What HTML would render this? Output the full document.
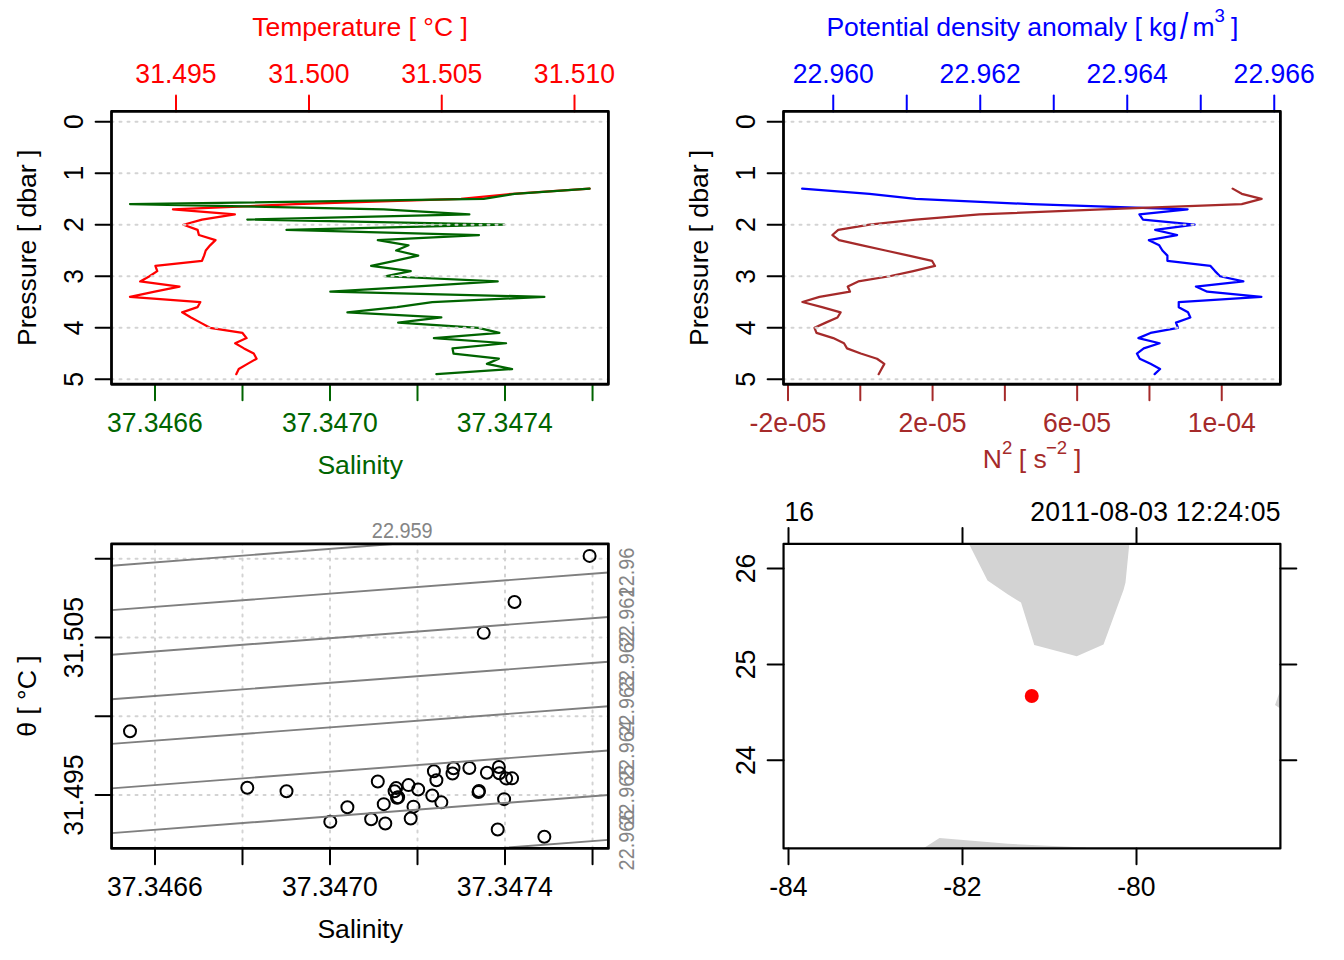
<!DOCTYPE html>
<html lang="en"><head><meta charset="utf-8"><title>CTD summary plot</title>
<style>html,body{margin:0;padding:0;background:#fff}svg{display:block}text{font-family:"Liberation Sans", sans-serif;font-size:26.56px}.nk{font-kerning:none}</style></head><body>
<svg width="1344" height="960" viewBox="0 0 1344 960">
<rect width="1344" height="960" fill="#fff"/>
<line x1="95.60" y1="121.65" x2="111.50" y2="121.65" stroke="#000" stroke-width="2" stroke-linecap="round"/>
<text x="82.90" y="121.65" fill="#000" text-anchor="middle" transform="translate(82.90 121.65) rotate(-90) scale(1 1.07) translate(-82.90 -121.65)">0</text>
<line x1="95.60" y1="173.18" x2="111.50" y2="173.18" stroke="#000" stroke-width="2" stroke-linecap="round"/>
<text x="82.90" y="173.18" fill="#000" text-anchor="middle" transform="translate(82.90 173.18) rotate(-90) scale(1 1.07) translate(-82.90 -173.18)">1</text>
<line x1="95.60" y1="224.72" x2="111.50" y2="224.72" stroke="#000" stroke-width="2" stroke-linecap="round"/>
<text x="82.90" y="224.72" fill="#000" text-anchor="middle" transform="translate(82.90 224.72) rotate(-90) scale(1 1.07) translate(-82.90 -224.72)">2</text>
<line x1="95.60" y1="276.25" x2="111.50" y2="276.25" stroke="#000" stroke-width="2" stroke-linecap="round"/>
<text x="82.90" y="276.25" fill="#000" text-anchor="middle" transform="translate(82.90 276.25) rotate(-90) scale(1 1.07) translate(-82.90 -276.25)">3</text>
<line x1="95.60" y1="327.79" x2="111.50" y2="327.79" stroke="#000" stroke-width="2" stroke-linecap="round"/>
<text x="82.90" y="327.79" fill="#000" text-anchor="middle" transform="translate(82.90 327.79) rotate(-90) scale(1 1.07) translate(-82.90 -327.79)">4</text>
<line x1="95.60" y1="379.32" x2="111.50" y2="379.32" stroke="#000" stroke-width="2" stroke-linecap="round"/>
<text x="82.90" y="379.32" fill="#000" text-anchor="middle" transform="translate(82.90 379.32) rotate(-90) scale(1 1.07) translate(-82.90 -379.32)">5</text>
<text x="36.20" y="247.85" fill="#000" text-anchor="middle" transform="translate(36.20 247.85) rotate(-90) translate(-36.20 -247.85)">Pressure [ dbar ]</text>
<line x1="176.00" y1="111.45" x2="176.00" y2="95.55" stroke="#ff0000" stroke-width="2" stroke-linecap="round"/>
<text x="176.00" y="82.60" fill="#ff0000" text-anchor="middle" transform="translate(176.00 82.60) scale(1 1.07) translate(-176.00 -82.60)">31.495</text>
<line x1="309.00" y1="111.45" x2="309.00" y2="95.55" stroke="#ff0000" stroke-width="2" stroke-linecap="round"/>
<text x="309.00" y="82.60" fill="#ff0000" text-anchor="middle" transform="translate(309.00 82.60) scale(1 1.07) translate(-309.00 -82.60)">31.500</text>
<line x1="441.75" y1="111.45" x2="441.75" y2="95.55" stroke="#ff0000" stroke-width="2" stroke-linecap="round"/>
<text x="441.75" y="82.60" fill="#ff0000" text-anchor="middle" transform="translate(441.75 82.60) scale(1 1.07) translate(-441.75 -82.60)">31.505</text>
<line x1="574.50" y1="111.45" x2="574.50" y2="95.55" stroke="#ff0000" stroke-width="2" stroke-linecap="round"/>
<text x="574.50" y="82.60" fill="#ff0000" text-anchor="middle" transform="translate(574.50 82.60) scale(1 1.07) translate(-574.50 -82.60)">31.510</text>
<text x="360.00" y="35.90" fill="#ff0000" text-anchor="middle">Temperature [ °C ]</text>
<line x1="155.00" y1="384.25" x2="155.00" y2="400.15" stroke="#006400" stroke-width="2" stroke-linecap="round"/>
<line x1="242.50" y1="384.25" x2="242.50" y2="400.15" stroke="#006400" stroke-width="2" stroke-linecap="round"/>
<line x1="330.00" y1="384.25" x2="330.00" y2="400.15" stroke="#006400" stroke-width="2" stroke-linecap="round"/>
<line x1="417.50" y1="384.25" x2="417.50" y2="400.15" stroke="#006400" stroke-width="2" stroke-linecap="round"/>
<line x1="505.00" y1="384.25" x2="505.00" y2="400.15" stroke="#006400" stroke-width="2" stroke-linecap="round"/>
<line x1="592.55" y1="384.25" x2="592.55" y2="400.15" stroke="#006400" stroke-width="2" stroke-linecap="round"/>
<text x="154.90" y="432.10" fill="#006400" text-anchor="middle" transform="translate(154.90 432.10) scale(1 1.07) translate(-154.90 -432.10)">37.3466</text>
<text x="329.90" y="432.10" fill="#006400" text-anchor="middle" transform="translate(329.90 432.10) scale(1 1.07) translate(-329.90 -432.10)">37.3470</text>
<text x="504.70" y="432.10" fill="#006400" text-anchor="middle" transform="translate(504.70 432.10) scale(1 1.07) translate(-504.70 -432.10)">37.3474</text>
<text x="360.20" y="473.90" fill="#006400" text-anchor="middle">Salinity</text>
<polyline points="589.60,188.64 512.50,193.80 461.00,198.95 295.50,204.10 172.90,209.26 234.85,214.41 202.00,219.56 183.50,224.72 197.60,229.87 198.90,235.02 215.50,240.18 210.10,245.33 205.75,250.49 204.10,255.64 202.00,260.79 155.40,265.95 157.25,271.10 149.50,276.25 140.15,281.41 179.50,286.56 154.75,291.71 130.00,296.87 200.35,302.02 197.50,307.17 182.15,312.33 191.00,317.48 200.50,322.63 210.00,327.79 242.50,332.94 246.60,338.09 235.15,343.25 244.00,348.40 253.75,353.55 256.60,358.71 247.50,363.86 238.75,369.01 236.25,374.17" fill="none" stroke="#ff0000" stroke-width="2.25" stroke-linejoin="round" stroke-linecap="round"/>
<polyline points="589.60,188.64 514.50,193.80 483.70,198.95 130.00,204.10 383.75,209.26 469.35,214.41 247.30,219.56 504.10,224.72 286.50,229.87 479.00,235.02 377.80,240.18 408.50,245.33 396.15,250.49 418.20,255.64 394.60,260.79 371.15,265.95 410.70,271.10 385.30,276.25 497.70,281.41 413.50,286.56 330.30,291.71 544.35,296.87 432.25,302.02 397.00,307.17 347.40,312.33 441.35,317.48 398.15,322.63 478.50,327.79 499.35,332.94 433.90,338.09 506.10,343.25 452.50,348.40 453.50,353.55 498.85,358.71 486.90,363.86 512.10,369.01 436.40,374.17" fill="none" stroke="#006400" stroke-width="2.25" stroke-linejoin="round" stroke-linecap="round"/>
<line x1="111.50" y1="121.65" x2="608.40" y2="121.65" stroke="#d3d3d3" stroke-width="2" stroke-dasharray="2 6" stroke-linecap="round"/>
<line x1="111.50" y1="173.18" x2="608.40" y2="173.18" stroke="#d3d3d3" stroke-width="2" stroke-dasharray="2 6" stroke-linecap="round"/>
<line x1="111.50" y1="224.72" x2="608.40" y2="224.72" stroke="#d3d3d3" stroke-width="2" stroke-dasharray="2 6" stroke-linecap="round"/>
<line x1="111.50" y1="276.25" x2="608.40" y2="276.25" stroke="#d3d3d3" stroke-width="2" stroke-dasharray="2 6" stroke-linecap="round"/>
<line x1="111.50" y1="327.79" x2="608.40" y2="327.79" stroke="#d3d3d3" stroke-width="2" stroke-dasharray="2 6" stroke-linecap="round"/>
<line x1="111.50" y1="379.32" x2="608.40" y2="379.32" stroke="#d3d3d3" stroke-width="2" stroke-dasharray="2 6" stroke-linecap="round"/>
<rect x="111.50" y="111.45" width="496.90" height="272.80" fill="none" stroke="#000" stroke-width="2.8" stroke-linejoin="round"/>
<line x1="767.60" y1="121.65" x2="783.50" y2="121.65" stroke="#000" stroke-width="2" stroke-linecap="round"/>
<text x="754.90" y="121.65" fill="#000" text-anchor="middle" transform="translate(754.90 121.65) rotate(-90) scale(1 1.07) translate(-754.90 -121.65)">0</text>
<line x1="767.60" y1="173.18" x2="783.50" y2="173.18" stroke="#000" stroke-width="2" stroke-linecap="round"/>
<text x="754.90" y="173.18" fill="#000" text-anchor="middle" transform="translate(754.90 173.18) rotate(-90) scale(1 1.07) translate(-754.90 -173.18)">1</text>
<line x1="767.60" y1="224.72" x2="783.50" y2="224.72" stroke="#000" stroke-width="2" stroke-linecap="round"/>
<text x="754.90" y="224.72" fill="#000" text-anchor="middle" transform="translate(754.90 224.72) rotate(-90) scale(1 1.07) translate(-754.90 -224.72)">2</text>
<line x1="767.60" y1="276.25" x2="783.50" y2="276.25" stroke="#000" stroke-width="2" stroke-linecap="round"/>
<text x="754.90" y="276.25" fill="#000" text-anchor="middle" transform="translate(754.90 276.25) rotate(-90) scale(1 1.07) translate(-754.90 -276.25)">3</text>
<line x1="767.60" y1="327.79" x2="783.50" y2="327.79" stroke="#000" stroke-width="2" stroke-linecap="round"/>
<text x="754.90" y="327.79" fill="#000" text-anchor="middle" transform="translate(754.90 327.79) rotate(-90) scale(1 1.07) translate(-754.90 -327.79)">4</text>
<line x1="767.60" y1="379.32" x2="783.50" y2="379.32" stroke="#000" stroke-width="2" stroke-linecap="round"/>
<text x="754.90" y="379.32" fill="#000" text-anchor="middle" transform="translate(754.90 379.32) rotate(-90) scale(1 1.07) translate(-754.90 -379.32)">5</text>
<text x="708.20" y="247.85" fill="#000" text-anchor="middle" transform="translate(708.20 247.85) rotate(-90) translate(-708.20 -247.85)">Pressure [ dbar ]</text>
<line x1="833.25" y1="111.45" x2="833.25" y2="95.55" stroke="#0000ff" stroke-width="2" stroke-linecap="round"/>
<line x1="906.75" y1="111.45" x2="906.75" y2="95.55" stroke="#0000ff" stroke-width="2" stroke-linecap="round"/>
<line x1="980.25" y1="111.45" x2="980.25" y2="95.55" stroke="#0000ff" stroke-width="2" stroke-linecap="round"/>
<line x1="1053.75" y1="111.45" x2="1053.75" y2="95.55" stroke="#0000ff" stroke-width="2" stroke-linecap="round"/>
<line x1="1127.25" y1="111.45" x2="1127.25" y2="95.55" stroke="#0000ff" stroke-width="2" stroke-linecap="round"/>
<line x1="1200.75" y1="111.45" x2="1200.75" y2="95.55" stroke="#0000ff" stroke-width="2" stroke-linecap="round"/>
<line x1="1274.25" y1="111.45" x2="1274.25" y2="95.55" stroke="#0000ff" stroke-width="2" stroke-linecap="round"/>
<text x="833.25" y="82.60" fill="#0000ff" text-anchor="middle" transform="translate(833.25 82.60) scale(1 1.07) translate(-833.25 -82.60)">22.960</text>
<text x="980.25" y="82.60" fill="#0000ff" text-anchor="middle" transform="translate(980.25 82.60) scale(1 1.07) translate(-980.25 -82.60)">22.962</text>
<text x="1127.25" y="82.60" fill="#0000ff" text-anchor="middle" transform="translate(1127.25 82.60) scale(1 1.07) translate(-1127.25 -82.60)">22.964</text>
<text x="1274.25" y="82.60" fill="#0000ff" text-anchor="middle" transform="translate(1274.25 82.60) scale(1 1.07) translate(-1274.25 -82.60)">22.966</text>
<text fill="#0000ff" text-anchor="start"><tspan x="826.4" y="35.9" textLength="350.6" lengthAdjust="spacing">Potential density anomaly [ kg</tspan><tspan x="1192.4" y="35.9">m</tspan><tspan x="1214.4" y="22.2" style="font-size:18.6px">3</tspan><tspan x="1231" y="35.9">]</tspan></text>
<text x="0" y="0" fill="#0000ff" text-anchor="start" transform="translate(1180.1 39.1) scale(1.12 1.42)">/</text>
<line x1="788.00" y1="384.25" x2="788.00" y2="400.15" stroke="#a52a2a" stroke-width="2" stroke-linecap="round"/>
<line x1="860.29" y1="384.25" x2="860.29" y2="400.15" stroke="#a52a2a" stroke-width="2" stroke-linecap="round"/>
<line x1="932.58" y1="384.25" x2="932.58" y2="400.15" stroke="#a52a2a" stroke-width="2" stroke-linecap="round"/>
<line x1="1004.87" y1="384.25" x2="1004.87" y2="400.15" stroke="#a52a2a" stroke-width="2" stroke-linecap="round"/>
<line x1="1077.16" y1="384.25" x2="1077.16" y2="400.15" stroke="#a52a2a" stroke-width="2" stroke-linecap="round"/>
<line x1="1149.45" y1="384.25" x2="1149.45" y2="400.15" stroke="#a52a2a" stroke-width="2" stroke-linecap="round"/>
<line x1="1221.74" y1="384.25" x2="1221.74" y2="400.15" stroke="#a52a2a" stroke-width="2" stroke-linecap="round"/>
<text x="788.00" y="432.10" fill="#a52a2a" text-anchor="middle" transform="translate(788.00 432.10) scale(1 1.07) translate(-788.00 -432.10)">-2e-05</text>
<text x="932.50" y="432.10" fill="#a52a2a" text-anchor="middle" transform="translate(932.50 432.10) scale(1 1.07) translate(-932.50 -432.10)">2e-05</text>
<text x="1077.00" y="432.10" fill="#a52a2a" text-anchor="middle" transform="translate(1077.00 432.10) scale(1 1.07) translate(-1077.00 -432.10)">6e-05</text>
<text x="1221.75" y="432.10" fill="#a52a2a" text-anchor="middle" transform="translate(1221.75 432.10) scale(1 1.07) translate(-1221.75 -432.10)">1e-04</text>
<text fill="#a52a2a" text-anchor="start"><tspan x="982.8" y="467.6">N</tspan><tspan x="1002" y="453.90000000000003" style="font-size:18.6px">2</tspan><tspan x="1018.8" y="467.6">[ s</tspan><tspan x="1046" y="453.90000000000003" style="font-size:18.6px">−2</tspan><tspan x="1074" y="467.6">]</tspan></text>
<polyline points="802.15,188.64 869.50,193.80 915.75,198.95 1031.00,204.10 1187.60,209.26 1139.40,214.41 1143.00,219.56 1194.60,224.72 1155.15,229.87 1177.10,235.02 1148.90,240.18 1159.25,245.33 1162.40,250.49 1167.40,255.64 1167.40,260.79 1210.50,265.95 1215.00,271.10 1220.00,276.25 1243.35,281.41 1195.90,286.56 1207.25,291.71 1261.35,296.87 1178.75,302.02 1178.75,307.17 1188.00,312.33 1190.35,317.48 1176.00,322.63 1178.00,327.79 1150.50,332.94 1138.40,338.09 1159.60,343.25 1143.75,348.40 1136.90,353.55 1139.75,358.71 1150.50,363.86 1160.10,369.01 1154.65,374.17" fill="none" stroke="#0000ff" stroke-width="2.25" stroke-linejoin="round" stroke-linecap="round"/>
<polyline points="1232.65,188.64 1241.75,193.80 1261.60,198.95 1241.75,204.10 1102.00,209.26 979.50,214.41 915.75,219.56 869.50,224.72 838.25,229.87 832.40,235.02 839.00,240.18 862.25,245.33 885.50,250.49 908.75,255.64 932.00,260.79 935.00,265.95 913.25,271.10 889.50,276.25 858.25,281.41 847.75,286.56 850.00,291.71 819.50,296.87 802.40,302.02 822.00,307.17 840.60,312.33 837.50,317.48 825.75,322.63 814.50,327.79 816.50,332.94 833.25,338.09 844.00,343.25 847.00,348.40 860.75,353.55 877.00,358.71 884.35,363.86 881.50,369.01 878.65,374.17" fill="none" stroke="#a52a2a" stroke-width="2.25" stroke-linejoin="round" stroke-linecap="round"/>
<line x1="783.50" y1="121.65" x2="1280.40" y2="121.65" stroke="#d3d3d3" stroke-width="2" stroke-dasharray="2 6" stroke-linecap="round"/>
<line x1="783.50" y1="173.18" x2="1280.40" y2="173.18" stroke="#d3d3d3" stroke-width="2" stroke-dasharray="2 6" stroke-linecap="round"/>
<line x1="783.50" y1="224.72" x2="1280.40" y2="224.72" stroke="#d3d3d3" stroke-width="2" stroke-dasharray="2 6" stroke-linecap="round"/>
<line x1="783.50" y1="276.25" x2="1280.40" y2="276.25" stroke="#d3d3d3" stroke-width="2" stroke-dasharray="2 6" stroke-linecap="round"/>
<line x1="783.50" y1="327.79" x2="1280.40" y2="327.79" stroke="#d3d3d3" stroke-width="2" stroke-dasharray="2 6" stroke-linecap="round"/>
<line x1="783.50" y1="379.32" x2="1280.40" y2="379.32" stroke="#d3d3d3" stroke-width="2" stroke-dasharray="2 6" stroke-linecap="round"/>
<rect x="783.50" y="111.45" width="496.90" height="272.80" fill="none" stroke="#000" stroke-width="2.8" stroke-linejoin="round"/>
<clipPath id="c3"><rect x="111.55" y="543.8" width="496.84999999999997" height="304.6"/></clipPath>
<g clip-path="url(#c3)">
<line x1="155.00" y1="848.40" x2="155.00" y2="543.80" stroke="#d3d3d3" stroke-width="2" stroke-dasharray="2 6" stroke-linecap="round"/>
<line x1="242.50" y1="848.40" x2="242.50" y2="543.80" stroke="#d3d3d3" stroke-width="2" stroke-dasharray="2 6" stroke-linecap="round"/>
<line x1="330.00" y1="848.40" x2="330.00" y2="543.80" stroke="#d3d3d3" stroke-width="2" stroke-dasharray="2 6" stroke-linecap="round"/>
<line x1="417.50" y1="848.40" x2="417.50" y2="543.80" stroke="#d3d3d3" stroke-width="2" stroke-dasharray="2 6" stroke-linecap="round"/>
<line x1="505.00" y1="848.40" x2="505.00" y2="543.80" stroke="#d3d3d3" stroke-width="2" stroke-dasharray="2 6" stroke-linecap="round"/>
<line x1="592.55" y1="848.40" x2="592.55" y2="543.80" stroke="#d3d3d3" stroke-width="2" stroke-dasharray="2 6" stroke-linecap="round"/>
<line x1="111.55" y1="558.85" x2="608.40" y2="558.85" stroke="#d3d3d3" stroke-width="2" stroke-dasharray="2 6" stroke-linecap="round"/>
<line x1="111.55" y1="637.60" x2="608.40" y2="637.60" stroke="#d3d3d3" stroke-width="2" stroke-dasharray="2 6" stroke-linecap="round"/>
<line x1="111.55" y1="716.35" x2="608.40" y2="716.35" stroke="#d3d3d3" stroke-width="2" stroke-dasharray="2 6" stroke-linecap="round"/>
<line x1="111.55" y1="795.10" x2="608.40" y2="795.10" stroke="#d3d3d3" stroke-width="2" stroke-dasharray="2 6" stroke-linecap="round"/>
</g>
<text x="402.25" y="537.70" fill="#858585" text-anchor="middle" style="font-size:19.9px" transform="translate(402.25 537.70) scale(1 1.07) translate(-402.25 -537.70)">22.959</text>
<text x="634.30" y="572.50" fill="#858585" text-anchor="middle" style="font-size:19.9px" transform="translate(634.30 572.50) rotate(-90) scale(1 1.07) translate(-634.30 -572.50)">22.96</text>
<text x="634.30" y="617.00" fill="#858585" text-anchor="middle" style="font-size:19.9px" transform="translate(634.30 617.00) rotate(-90) scale(1 1.07) translate(-634.30 -617.00)">22.961</text>
<text x="634.30" y="661.60" fill="#858585" text-anchor="middle" style="font-size:19.9px" transform="translate(634.30 661.60) rotate(-90) scale(1 1.07) translate(-634.30 -661.60)">22.962</text>
<text x="634.30" y="706.20" fill="#858585" text-anchor="middle" style="font-size:19.9px" transform="translate(634.30 706.20) rotate(-90) scale(1 1.07) translate(-634.30 -706.20)">22.963</text>
<text x="634.30" y="750.60" fill="#858585" text-anchor="middle" style="font-size:19.9px" transform="translate(634.30 750.60) rotate(-90) scale(1 1.07) translate(-634.30 -750.60)">22.964</text>
<text x="634.30" y="795.10" fill="#858585" text-anchor="middle" style="font-size:19.9px" transform="translate(634.30 795.10) rotate(-90) scale(1 1.07) translate(-634.30 -795.10)">22.965</text>
<text x="634.30" y="840.00" fill="#858585" text-anchor="middle" style="font-size:19.9px" transform="translate(634.30 840.00) rotate(-90) scale(1 1.07) translate(-634.30 -840.00)">22.966</text>
<line x1="95.65" y1="558.85" x2="111.55" y2="558.85" stroke="#000" stroke-width="2" stroke-linecap="round"/>
<line x1="95.65" y1="637.60" x2="111.55" y2="637.60" stroke="#000" stroke-width="2" stroke-linecap="round"/>
<line x1="95.65" y1="716.35" x2="111.55" y2="716.35" stroke="#000" stroke-width="2" stroke-linecap="round"/>
<line x1="95.65" y1="795.10" x2="111.55" y2="795.10" stroke="#000" stroke-width="2" stroke-linecap="round"/>
<text x="82.90" y="637.60" fill="#000" text-anchor="middle" transform="translate(82.90 637.60) rotate(-90) scale(1 1.07) translate(-82.90 -637.60)">31.505</text>
<text x="82.90" y="795.10" fill="#000" text-anchor="middle" transform="translate(82.90 795.10) rotate(-90) scale(1 1.07) translate(-82.90 -795.10)">31.495</text>
<text x="36.20" y="696.10" fill="#000" text-anchor="middle" transform="translate(36.20 696.10) rotate(-90) translate(-36.20 -696.10)">θ [ °C ]</text>
<line x1="155.00" y1="848.40" x2="155.00" y2="864.30" stroke="#000" stroke-width="2" stroke-linecap="round"/>
<line x1="242.50" y1="848.40" x2="242.50" y2="864.30" stroke="#000" stroke-width="2" stroke-linecap="round"/>
<line x1="330.00" y1="848.40" x2="330.00" y2="864.30" stroke="#000" stroke-width="2" stroke-linecap="round"/>
<line x1="417.50" y1="848.40" x2="417.50" y2="864.30" stroke="#000" stroke-width="2" stroke-linecap="round"/>
<line x1="505.00" y1="848.40" x2="505.00" y2="864.30" stroke="#000" stroke-width="2" stroke-linecap="round"/>
<line x1="592.55" y1="848.40" x2="592.55" y2="864.30" stroke="#000" stroke-width="2" stroke-linecap="round"/>
<text x="154.90" y="895.90" fill="#000" text-anchor="middle" transform="translate(154.90 895.90) scale(1 1.07) translate(-154.90 -895.90)">37.3466</text>
<text x="329.90" y="895.90" fill="#000" text-anchor="middle" transform="translate(329.90 895.90) scale(1 1.07) translate(-329.90 -895.90)">37.3470</text>
<text x="504.70" y="895.90" fill="#000" text-anchor="middle" transform="translate(504.70 895.90) scale(1 1.07) translate(-504.70 -895.90)">37.3474</text>
<text x="360.20" y="937.60" fill="#000" text-anchor="middle">Salinity</text>
<circle cx="589.60" cy="555.90" r="6" fill="none" stroke="#000" stroke-width="2"/>
<circle cx="514.50" cy="601.94" r="6" fill="none" stroke="#000" stroke-width="2"/>
<circle cx="483.70" cy="632.84" r="6" fill="none" stroke="#000" stroke-width="2"/>
<circle cx="130.00" cy="731.19" r="6" fill="none" stroke="#000" stroke-width="2"/>
<circle cx="383.75" cy="804.16" r="6" fill="none" stroke="#000" stroke-width="2"/>
<circle cx="469.35" cy="767.93" r="6" fill="none" stroke="#000" stroke-width="2"/>
<circle cx="247.30" cy="787.79" r="6" fill="none" stroke="#000" stroke-width="2"/>
<circle cx="504.10" cy="799.16" r="6" fill="none" stroke="#000" stroke-width="2"/>
<circle cx="286.50" cy="791.24" r="6" fill="none" stroke="#000" stroke-width="2"/>
<circle cx="479.00" cy="790.90" r="6" fill="none" stroke="#000" stroke-width="2"/>
<circle cx="377.80" cy="781.50" r="6" fill="none" stroke="#000" stroke-width="2"/>
<circle cx="408.50" cy="785.12" r="6" fill="none" stroke="#000" stroke-width="2"/>
<circle cx="396.15" cy="788.12" r="6" fill="none" stroke="#000" stroke-width="2"/>
<circle cx="418.20" cy="789.52" r="6" fill="none" stroke="#000" stroke-width="2"/>
<circle cx="394.60" cy="791.19" r="6" fill="none" stroke="#000" stroke-width="2"/>
<circle cx="371.15" cy="819.19" r="6" fill="none" stroke="#000" stroke-width="2"/>
<circle cx="410.70" cy="818.52" r="6" fill="none" stroke="#000" stroke-width="2"/>
<circle cx="385.30" cy="823.53" r="6" fill="none" stroke="#000" stroke-width="2"/>
<circle cx="497.70" cy="829.49" r="6" fill="none" stroke="#000" stroke-width="2"/>
<circle cx="413.50" cy="806.63" r="6" fill="none" stroke="#000" stroke-width="2"/>
<circle cx="330.30" cy="821.70" r="6" fill="none" stroke="#000" stroke-width="2"/>
<circle cx="544.35" cy="836.77" r="6" fill="none" stroke="#000" stroke-width="2"/>
<circle cx="432.25" cy="795.57" r="6" fill="none" stroke="#000" stroke-width="2"/>
<circle cx="397.00" cy="797.68" r="6" fill="none" stroke="#000" stroke-width="2"/>
<circle cx="347.40" cy="807.19" r="6" fill="none" stroke="#000" stroke-width="2"/>
<circle cx="441.35" cy="802.37" r="6" fill="none" stroke="#000" stroke-width="2"/>
<circle cx="398.15" cy="797.18" r="6" fill="none" stroke="#000" stroke-width="2"/>
<circle cx="478.50" cy="791.98" r="6" fill="none" stroke="#000" stroke-width="2"/>
<circle cx="499.35" cy="773.18" r="6" fill="none" stroke="#000" stroke-width="2"/>
<circle cx="433.90" cy="771.18" r="6" fill="none" stroke="#000" stroke-width="2"/>
<circle cx="506.10" cy="778.38" r="6" fill="none" stroke="#000" stroke-width="2"/>
<circle cx="452.50" cy="773.56" r="6" fill="none" stroke="#000" stroke-width="2"/>
<circle cx="453.50" cy="768.22" r="6" fill="none" stroke="#000" stroke-width="2"/>
<circle cx="498.85" cy="766.96" r="6" fill="none" stroke="#000" stroke-width="2"/>
<circle cx="486.90" cy="772.77" r="6" fill="none" stroke="#000" stroke-width="2"/>
<circle cx="512.10" cy="778.37" r="6" fill="none" stroke="#000" stroke-width="2"/>
<circle cx="436.40" cy="780.28" r="6" fill="none" stroke="#000" stroke-width="2"/>
<g clip-path="url(#c3)">
<line x1="111.55" y1="565.75" x2="608.40" y2="527.40" stroke="#7f7f7f" stroke-width="1.9" stroke-linecap="round"/>
<line x1="111.55" y1="610.15" x2="608.40" y2="572.50" stroke="#7f7f7f" stroke-width="1.9" stroke-linecap="round"/>
<line x1="111.55" y1="654.80" x2="608.40" y2="617.00" stroke="#7f7f7f" stroke-width="1.9" stroke-linecap="round"/>
<line x1="111.55" y1="699.30" x2="608.40" y2="661.75" stroke="#7f7f7f" stroke-width="1.9" stroke-linecap="round"/>
<line x1="111.55" y1="743.90" x2="608.40" y2="706.25" stroke="#7f7f7f" stroke-width="1.9" stroke-linecap="round"/>
<line x1="111.55" y1="788.40" x2="608.40" y2="750.50" stroke="#7f7f7f" stroke-width="1.9" stroke-linecap="round"/>
<line x1="111.55" y1="833.10" x2="608.40" y2="795.00" stroke="#7f7f7f" stroke-width="1.9" stroke-linecap="round"/>
<line x1="111.55" y1="877.50" x2="608.40" y2="839.90" stroke="#7f7f7f" stroke-width="1.9" stroke-linecap="round"/>
</g>
<rect x="111.55" y="543.80" width="496.85" height="304.60" fill="none" stroke="#000" stroke-width="2.8" stroke-linejoin="round"/>
<clipPath id="c4"><rect x="783.55" y="543.8" width="496.85000000000014" height="304.6"/></clipPath>
<g clip-path="url(#c4)" fill="#d3d3d3">
<polygon points="967,540 1129.5,540 1129.25,544.5 1125.5,582.5 1123.5,590 1103.5,644.5 1076.75,656.25 1034.25,645 1021,602.5 1008,594.5 987.5,580.5"/>
<polygon points="920.75,850 939.5,838 1008,843.75 1085.5,847.5 1090,850"/>
<polygon points="1279.5,692.5 1275,705 1281,709 1284,692"/>
</g>
<circle cx="1031.75" cy="696" r="7" fill="#ff0000"/>
<line x1="788.50" y1="543.80" x2="788.50" y2="527.90" stroke="#000" stroke-width="2" stroke-linecap="round"/>
<line x1="788.50" y1="848.40" x2="788.50" y2="864.30" stroke="#000" stroke-width="2" stroke-linecap="round"/>
<line x1="962.50" y1="543.80" x2="962.50" y2="527.90" stroke="#000" stroke-width="2" stroke-linecap="round"/>
<line x1="962.50" y1="848.40" x2="962.50" y2="864.30" stroke="#000" stroke-width="2" stroke-linecap="round"/>
<line x1="1136.50" y1="543.80" x2="1136.50" y2="527.90" stroke="#000" stroke-width="2" stroke-linecap="round"/>
<line x1="1136.50" y1="848.40" x2="1136.50" y2="864.30" stroke="#000" stroke-width="2" stroke-linecap="round"/>
<text x="788.40" y="895.90" fill="#000" text-anchor="middle" transform="translate(788.40 895.90) scale(1 1.07) translate(-788.40 -895.90)">-84</text>
<text x="962.40" y="895.90" fill="#000" text-anchor="middle" transform="translate(962.40 895.90) scale(1 1.07) translate(-962.40 -895.90)">-82</text>
<text x="1136.40" y="895.90" fill="#000" text-anchor="middle" transform="translate(1136.40 895.90) scale(1 1.07) translate(-1136.40 -895.90)">-80</text>
<line x1="767.65" y1="568.50" x2="783.55" y2="568.50" stroke="#000" stroke-width="2" stroke-linecap="round"/>
<line x1="1280.40" y1="568.50" x2="1296.30" y2="568.50" stroke="#000" stroke-width="2" stroke-linecap="round"/>
<text x="754.90" y="568.50" fill="#000" text-anchor="middle" transform="translate(754.90 568.50) rotate(-90) scale(1 1.07) translate(-754.90 -568.50)">26</text>
<line x1="767.65" y1="664.50" x2="783.55" y2="664.50" stroke="#000" stroke-width="2" stroke-linecap="round"/>
<line x1="1280.40" y1="664.50" x2="1296.30" y2="664.50" stroke="#000" stroke-width="2" stroke-linecap="round"/>
<text x="754.90" y="664.50" fill="#000" text-anchor="middle" transform="translate(754.90 664.50) rotate(-90) scale(1 1.07) translate(-754.90 -664.50)">25</text>
<line x1="767.65" y1="760.30" x2="783.55" y2="760.30" stroke="#000" stroke-width="2" stroke-linecap="round"/>
<line x1="1280.40" y1="760.30" x2="1296.30" y2="760.30" stroke="#000" stroke-width="2" stroke-linecap="round"/>
<text x="754.90" y="760.30" fill="#000" text-anchor="middle" transform="translate(754.90 760.30) rotate(-90) scale(1 1.07) translate(-754.90 -760.30)">24</text>
<text x="784.60" y="521.40" fill="#000" text-anchor="start" transform="translate(784.60 521.40) scale(1 1.07) translate(-784.60 -521.40)" class="nk">16</text>
<text x="1030.3" y="0" class="nk" textLength="250.2" lengthAdjust="spacing" transform="translate(0 521.4) scale(1 1.07)">2011-08-03 12:24:05</text>
<rect x="783.55" y="543.80" width="496.85" height="304.60" fill="none" stroke="#000" stroke-width="2.2" stroke-linejoin="round"/>
</svg></body></html>
